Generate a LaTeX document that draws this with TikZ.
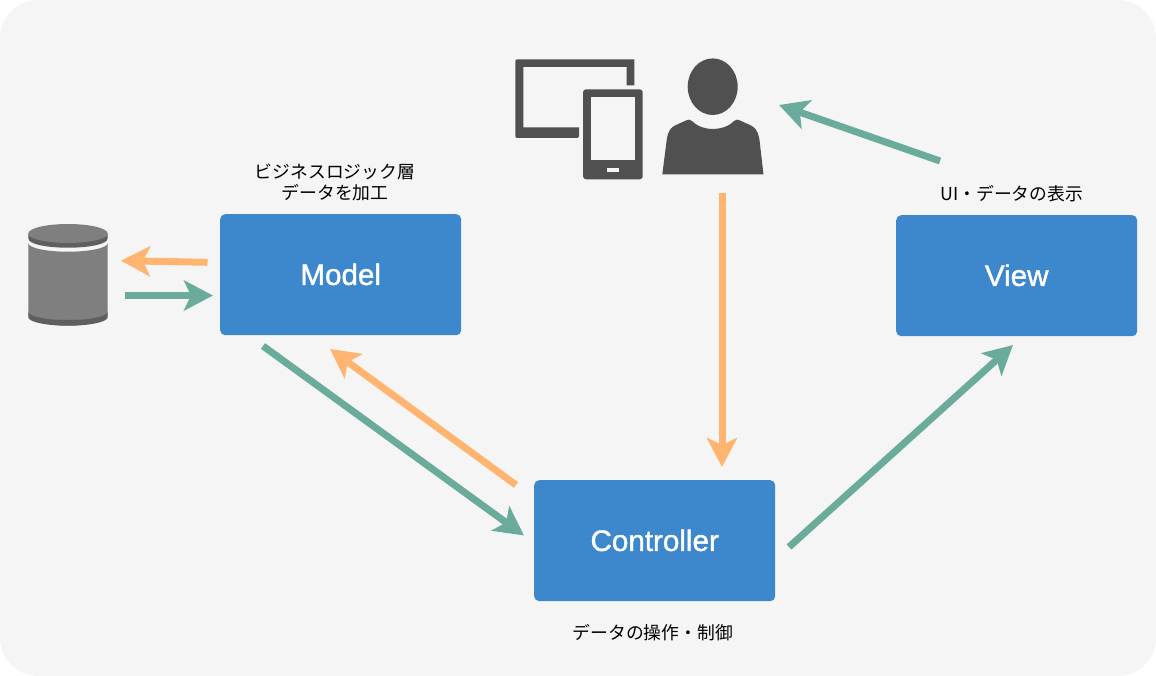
\documentclass[tikz,border=0pt]{standalone}
\usepackage{fontspec}
\setmainfont{Liberation Sans}
\newfontfamily\boldish[FakeBold=1.3]{Liberation Sans}
\newfontfamily\cjk{Noto Sans CJK JP}
\usetikzlibrary{arrows.meta}
\definecolor{bgc}{HTML}{F5F5F5}
\definecolor{boxc}{HTML}{3D87CD}
\definecolor{grn}{HTML}{6AAB9B}
\definecolor{org}{HTML}{FFB570}
\definecolor{icon}{HTML}{505050}
\definecolor{cyld}{HTML}{5F5F5F}
\definecolor{cylm}{HTML}{7F7F7F}
\tikzset{
  x=1pt,y=-1pt,
  blockbox/.style={fill=boxc,rounded corners=5pt,minimum width=241pt,minimum height=121pt,inner sep=0pt,text=white,font=\boldish\fontsize{29.6}{32}\selectfont,anchor=north west},
  caption/.style={font=\cjk\fontsize{17.8}{21.5}\selectfont,align=center,text=black,inner sep=0pt},
  conn/.style={line width=7pt,-{Stealth[length=29pt,width=30pt,inset=7pt]}},
  greenconn/.style={conn,draw=grn,color=grn},
  orangeconn/.style={conn,draw=org,color=org},
}
\begin{document}
\begin{tikzpicture}
\useasboundingbox (0,0) rectangle (1156,676);
\fill[bgc,rounded corners=38pt] (0,0) rectangle (1156,676);
% boxes
\node[blockbox] (model) at (220,214) {\raisebox{1pt}{Model}};
\node[blockbox] (view) at (896,215) {\raisebox{1pt}{View}};
\node[blockbox] (ctrl) at (534,480) {\raisebox{1pt}{Controller}};
% captions
\node[caption] (capm) at (335,182.5) {ビジネスロジック層\\データを加工};
\node[caption] (capv) at (1011.7,193.5) {UI・データの表示};
\node[caption] (capc) at (652.8,633) {データの操作・制御};
% database
\fill[cylm] (28.3,243) .. controls (28.3,248) and (46,251.7) .. (68,251.7) .. controls (90,251.7) and (107.7,248) .. (107.7,243)
  -- (107.7,314) .. controls (107.7,320) and (90,325.7) .. (68,325.7) .. controls (46,325.7) and (28.3,320) .. (28.3,314) -- cycle;
\fill[cyld] (28.3,311.5) .. controls (28.3,316.5) and (46,320) .. (68,320) .. controls (90,320) and (107.7,316.5) .. (107.7,311.5)
  -- (107.7,317) .. controls (107.7,322) and (90,325.7) .. (68,325.7) .. controls (46,325.7) and (28.3,322) .. (28.3,317) -- cycle;
\fill[cyld] (28.3,233.5) -- (28.3,238.5) .. controls (28.3,244) and (46,247.7) .. (68,247.7) .. controls (90,247.7) and (107.7,244) .. (107.7,238.5) -- (107.7,233.5) -- cycle;
\fill[cylm] (28.3,233.5) .. controls (28.3,228.3) and (46,224) .. (68,224) .. controls (90,224) and (107.7,228.3) .. (107.7,233.5)
  .. controls (107.7,238.7) and (90,243) .. (68,243) .. controls (46,243) and (28.3,238.7) .. (28.3,233.5) -- cycle;
% monitor
\fill[icon,rounded corners=2pt] (634.3,59.3) -- (515.3,59.3) -- (515.3,138) -- (579,138) [sharp corners] -- (579,127.3) -- (523.3,127.3) -- (523.3,67) -- (626.7,67) -- (626.7,85.3) -- (634.3,85.3) -- cycle;
% tablet
\fill[icon,rounded corners=3pt] (583,89.3) rectangle (642.7,179.3);
\fill[bgc] (591,96.7) rectangle (635,160.3);
\fill[bgc] (606.7,168) rectangle (619,172);
% person
\fill[icon] (712.7,86.7) ellipse[x radius=25,y radius=28.3];
\fill[icon] (662.3,174.5) -- (666.7,140) .. controls (668,130) and (672,127) .. (675,125.5)
  -- (686,120.5) .. controls (688,119) and (690,119.5) .. (692,121)
  .. controls (698,127) and (706,129) .. (712.7,129)
  .. controls (720,129) and (728,127) .. (734,121)
  .. controls (736,119.5) and (738,119) .. (740,120.5)
  -- (751,125.5) .. controls (754,127) and (758,130) .. (759.5,140) -- (763.5,174.5) -- cycle;
% connector ends
\coordinate (dbin) at (121,260.7);
\coordinate (dbout) at (125,295.5);
\coordinate (userbot) at (722,193);
\coordinate (usertip) at (779,105);
\draw[orangeconn] (207.5,262.3) -- (dbin);
\draw[greenconn] (dbout) -- (213,295.5);
\draw[greenconn] (263,346) -- (524,535.5);
\draw[orangeconn] (516,485) -- (330,349);
\draw[orangeconn] (userbot) -- (722,467);
\draw[greenconn] (789,547) -- (1013,345);
\draw[greenconn] (940,161) -- (usertip);
\end{tikzpicture}
\end{document}
